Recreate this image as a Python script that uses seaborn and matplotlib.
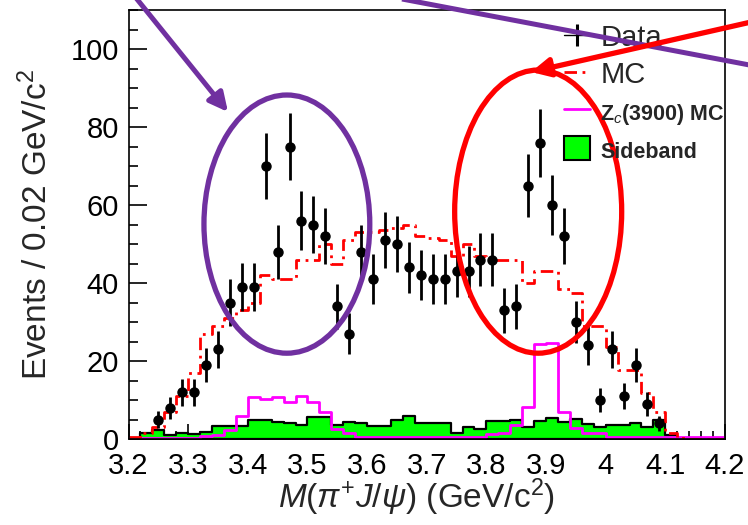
import numpy as np
import pandas as pd
import matplotlib
matplotlib.use("Agg")
import matplotlib.pyplot as plt
import seaborn as sns
from matplotlib.patches import Ellipse, Patch
from matplotlib.lines import Line2D
from matplotlib.ticker import MultipleLocator, FixedLocator, FixedFormatter

# ---------------- data ----------------
bin_edges = [round(3.20 + 0.02 * i, 2) for i in range(51)]      # 50 bins of 0.02 GeV
bin_centers = [round(3.21 + 0.02 * i, 3) for i in range(50)]

data_centers = [round(3.25 + 0.02 * i, 2) for i in range(43)]
data_counts = [5, 8, 12, 12, 19, 23, 35, 39, 39, 70, 48, 75, 56, 55, 52,
               34, 27, 48, 41, 51, 50, 44, 42, 41, 41, 43, 43, 46, 46, 33,
               34, 65, 76, 60, 52, 30, 24, 10, 23, 11, 19, 9, 4]

mc_counts = [0.5, 1.5, 3, 7, 11, 17, 27, 29, 31, 33,
             35, 42, 41, 41, 46, 46, 50, 45, 51, 53,
             53, 53.5, 54, 55, 52, 51.5, 51, 47, 50, 47,
             46, 46, 46, 40, 43, 43, 38.5, 37.5, 29, 29,
             23.5, 17.7, 17.7, 11.8, 7, 1.5, 0.3, 0, 0, 0]

zc_counts = [0.3, 0.3, 0.3, 0.3, 0.3, 0.3, 0.8, 1.0, 2.3, 6,
             10.8, 10.2, 10.8, 9.5, 11, 9.5, 6.9, 2.6, 1.5, 0.6,
             0.6, 0.6, 0.6, 0.6, 0.6, 0.6, 0.6, 0.6, 0.6, 0.6,
             1.2, 1.5, 3.6, 8.2, 24.4, 24.6, 7, 2.8, 1.5, 1.5,
             0.4, 0.4, 0.4, 0.4, 0.4, 0.4, 0.4, 0.4, 0.4, 0.4]

sideband_counts = [0, 1.5, 2.3, 1, 1.5, 1.2, 1.8, 3.3, 3.3, 3.3,
                   4.9, 4.9, 4.3, 4, 3.6, 5.7, 5.7, 3.6, 4.3, 4,
                   3.4, 3.4, 4.9, 6, 4, 4, 4, 1.5, 3.2, 2.5,
                   4.7, 4.7, 4.9, 3.2, 4.7, 5.3, 4.3, 5.1, 3.8, 3.2,
                   3.6, 3.6, 4, 3.2, 4.9, 1, 0, 0, 0, 0]

x_ticks = [3.2, 3.3, 3.4, 3.5, 3.6, 3.7, 3.8, 3.9, 4.0, 4.1, 4.2]
x_ticklabels = ["3.2", "3.3", "3.4", "3.5", "3.6", "3.7", "3.8", "3.9", "4", "4.1", "4.2"]
y_ticks = [0, 20, 40, 60, 80, 100]

legend_labels = ["Data", "MC", r"Z$_{\mathit{c}}$(3900) MC", "Sideband"]

hist_df = pd.DataFrame({"x": bin_centers, "mc": mc_counts, "zc": zc_counts,
                        "sb": sideband_counts})
data_df = pd.DataFrame({"x": data_centers, "n": data_counts})

# ---------------- style ----------------
sns.set_theme(style="ticks")
plt.rcParams["font.family"] = ["Liberation Sans", "DejaVu Sans"]
plt.rcParams["mathtext.fontset"] = "custom"
plt.rcParams["mathtext.rm"] = "Liberation Sans"
plt.rcParams["mathtext.it"] = "Liberation Sans:italic"
plt.rcParams["mathtext.bf"] = "Liberation Sans:bold"
plt.rcParams["axes.linewidth"] = 1.2

RED = "#ff0000"
MAGENTA = "#ff00ff"
GREEN = "#00ff00"
PURPLE = "#7030a0"

fig = plt.figure(figsize=(7.48, 5.25), dpi=100)
ax = fig.add_axes([128.5 / 748, 1 - 439 / 525, (725 - 128.5) / 748, (439 - 10) / 525])

# sideband (filled)
sns.histplot(data=hist_df, x="x", weights="sb", bins=bin_edges, element="step",
             fill=True, alpha=1, facecolor=GREEN, edgecolor="black", linewidth=1.6,
             ax=ax, zorder=1)
# Zc(3900) MC
sns.histplot(data=hist_df, x="x", weights="zc", bins=bin_edges, element="step",
             fill=False, color=MAGENTA, linewidth=2.0, ax=ax, zorder=1.5)
# MC
sns.histplot(data=hist_df, x="x", weights="mc", bins=bin_edges, element="step",
             fill=False, color=RED, linewidth=2.0, linestyle=(0, (4.5, 2.0, 1.0, 2.0)),
             ax=ax, zorder=2)
# data
ax.errorbar(data_df["x"], data_df["n"], yerr=np.sqrt(data_df["n"]), fmt="o",
            color="black", ms=6.5, elinewidth=2.0, capsize=0, zorder=3)

ax.set_xlim(3.2, 4.2)
ax.set_ylim(0, 110)
ax.xaxis.set_major_locator(FixedLocator(x_ticks))
ax.xaxis.set_major_formatter(FixedFormatter(x_ticklabels))
ax.xaxis.set_minor_locator(MultipleLocator(0.02))
ax.yaxis.set_major_locator(FixedLocator(y_ticks))
ax.yaxis.set_minor_locator(MultipleLocator(5))
ax.tick_params(axis="both", which="both", direction="in", top=False, right=False,
               colors="black", width=1.2)
ax.tick_params(axis="x", which="major", length=11, pad=9, labelsize=21)
ax.tick_params(axis="x", which="minor", length=5.5)
ax.tick_params(axis="y", which="major", length=13, pad=7, labelsize=21)
ax.tick_params(axis="y", which="minor", length=6.5)
for s in ax.spines.values():
    s.set_visible(True)
    s.set_color("black")
# nudge the "0" label slightly up so it does not touch "3.2"
for lbl in ax.get_yticklabels():
    lbl.set_verticalalignment("center_baseline")

ax.set_xlabel(r"$M(\pi^{+}J/\psi)$ (GeV/c$^{2}$)", fontsize=24)
ax.set_ylabel(r"Events / 0.02 GeV/c$^{2}$", fontsize=24)
ax.xaxis.set_label_coords(0.483, -0.088)
ax.yaxis.set_label_coords(-0.125, 0.5)

# legend
handles = [
    Line2D([0], [0], color="black", lw=1.0, marker="|", ms=16, mew=2.2),
    Line2D([0], [0], color=RED, lw=2.0, linestyle=(0, (4.5, 2.0, 1.0, 2.0))),
    Line2D([0], [0], color=MAGENTA, lw=2.0),
    Patch(facecolor=GREEN, edgecolor="black", linewidth=1.5),
]
leg = ax.legend(handles, legend_labels, loc="upper left",
                bbox_to_anchor=(564 / 748, 1 - 24 / 525), bbox_transform=fig.transFigure,
                frameon=False, fontsize=21, handlelength=0.9, handleheight=0.9,
                handletextpad=0.35, labelspacing=0.3, borderpad=0, borderaxespad=0)
texts = leg.get_texts()
for t in texts[2:]:
    t.set_fontsize(15.5)
    t.set_fontweight("bold")

# annotation ellipses (data coordinates)
ax.add_patch(Ellipse((3.4655, 55.1), 0.278, 66.2, fill=False, edgecolor=PURPLE,
                     lw=3.8, zorder=5, clip_on=False))
ax.add_patch(Ellipse((3.8868, 58.3), 0.280, 72.6, fill=False, edgecolor=RED,
                     lw=3.8, zorder=5, clip_on=False))

# annotation arrows (figure pixel overlay)
ov = fig.add_axes([0, 0, 1, 1], zorder=10)
ov.set_xlim(0, 748)
ov.set_ylim(525, 0)
ov.axis("off")
ov.patch.set_alpha(0)
ov.annotate("", xy=(228, 112), xytext=(128, -12),
            arrowprops=dict(arrowstyle="-|>", color=PURPLE, lw=3.6, mutation_scale=28,
                            shrinkA=0, shrinkB=0))
ov.plot([402, 760], [-1, 67], color=PURPLE, lw=3.6, solid_capstyle="butt")
ov.annotate("", xy=(531, 72), xytext=(760, 20),
            arrowprops=dict(arrowstyle="-|>", color=RED, lw=3.8, mutation_scale=28,
                            shrinkA=0, shrinkB=0))

fig.savefig("out.png", dpi=100)
